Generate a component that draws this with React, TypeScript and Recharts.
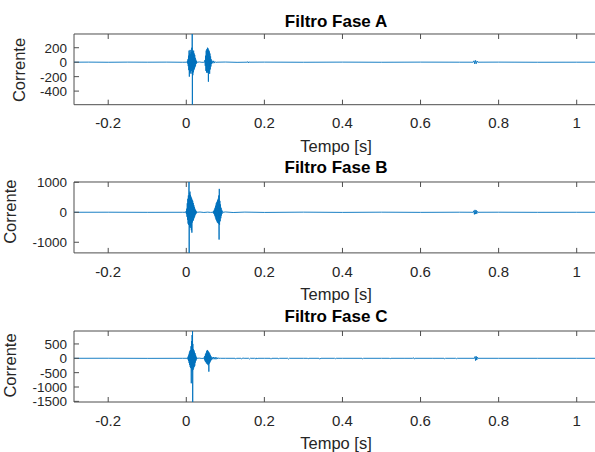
import { LineChart, Line, XAxis, YAxis, ReferenceArea } from 'recharts';

// [tempo (s), corrente]
const faseA: [number, number][] = [
  [-0.2876, 0], [-0.25, 1], [-0.2, -1], [-0.15, 1], [-0.1, 0], [-0.05, 1], [-0.01, -1], [0, 0],
  [0.002, 0], [0.0028, 12], [0.0035, -18], [0.0042, 40], [0.005, -55], [0.0057, 90], [0.0064, -110],
  [0.0071, 160], [0.0078, -200], [0.0085, 120], [0.0092, -150], [0.0099, 170], [0.0106, -130],
  [0.0113, 110], [0.012, -160], [0.0127, 140], [0.0134, -120], [0.0141, 200], [0.0148, -90],
  [0.0152, 390], [0.0156, -588], [0.016, 150], [0.0167, -180], [0.0174, 130], [0.0181, -140],
  [0.0188, 160], [0.0195, -110], [0.0202, 120], [0.0209, -90], [0.0216, 100], [0.0223, -70],
  [0.023, 60], [0.0237, -50], [0.0244, 35], [0.0251, -25], [0.0258, 18], [0.0265, -10], [0.0272, 5],
  [0.028, 0], [0.034, 3], [0.04, -2],
  [0.047, 0], [0.0478, 30], [0.0486, -50], [0.0494, 90], [0.0502, -120], [0.051, 160], [0.0518, -140],
  [0.0526, 180], [0.0534, -150], [0.0542, 200], [0.055, -130], [0.0558, 190], [0.0566, -270],
  [0.0574, 170], [0.0582, -140], [0.059, 150], [0.0598, -160], [0.0606, 120], [0.0614, -100],
  [0.0622, 80], [0.063, -60], [0.0638, 40], [0.0646, -25], [0.066, 20], [0.068, -15], [0.07, 18],
  [0.072, -12], [0.074, 8], [0.076, -5], [0.078, 0],
  [0.1, 2], [0.13, -2], [0.156, 0], [0.1575, 8], [0.159, -10], [0.1605, 6], [0.162, 0], [0.2, 1],
  [0.3, -1], [0.4, 1], [0.5, -1], [0.6, 1], [0.7, 0], [0.735, 0], [0.737, 20], [0.739, -25],
  [0.741, 25], [0.743, -20], [0.745, 15], [0.747, 0], [0.8, 1], [0.9, -1], [1.0, 0], [1.0535, 0],
];

const faseB: [number, number][] = [
  [-0.2876, 0], [-0.2, 2], [-0.1, -2], [-0.01, 0],
  [-0.001, 0], [-0.0003, 40], [0.0004, -60], [0.0011, 120], [0.0018, -150], [0.0025, 300],
  [0.0032, -250], [0.0039, 450], [0.0046, -380], [0.0053, 560], [0.006, -420], [0.0066, 600],
  [0.007, 1010], [0.0074, -1355], [0.008, 640], [0.0087, -480], [0.0094, 690], [0.0101, -520],
  [0.0108, 580], [0.0115, -450], [0.0122, 520], [0.0129, -600], [0.0136, 470], [0.0143, -680],
  [0.015, 420], [0.0157, -340], [0.0164, 380], [0.0171, -290], [0.0178, 310], [0.0185, -260],
  [0.0192, 240], [0.0199, -200], [0.0206, 180], [0.0213, -150], [0.022, 120], [0.0227, -100],
  [0.0234, 80], [0.0241, -60], [0.0248, 50], [0.0255, -35], [0.0262, 20], [0.027, -10], [0.028, 0],
  [0.035, 8], [0.045, -6], [0.055, 5], [0.062, -4],
  [0.068, 0], [0.0688, 20], [0.0696, -30], [0.0704, 50], [0.0712, -60], [0.072, 90], [0.0728, -110],
  [0.0736, 150], [0.0744, -170], [0.0752, 220], [0.076, -240], [0.0768, 300], [0.0776, -280],
  [0.0784, 350], [0.0792, -330], [0.08, 400], [0.0808, -360], [0.0816, 450], [0.0824, -380],
  [0.0832, 560], [0.084, -910], [0.0845, 780], [0.0852, -420], [0.086, 380], [0.0868, -300],
  [0.0876, 260], [0.0884, -200], [0.0892, 150], [0.09, -110], [0.0908, 80], [0.0916, -50],
  [0.0924, 30], [0.094, 0],
  [0.1, 10], [0.12, -8], [0.15, 6], [0.2, -5], [0.3, 4], [0.4, -4], [0.5, 3], [0.6, -3], [0.7, 2],
  [0.735, 0], [0.7365, 50], [0.738, -70], [0.7395, 80], [0.741, -60], [0.7425, 70], [0.744, -50],
  [0.7455, 30], [0.747, 0], [0.8, 2], [0.9, -2], [1.0, 0], [1.0535, 0],
];

const faseC: [number, number][] = [
  [-0.2876, 0], [-0.2, 2], [-0.1, -2], [-0.01, 0],
  [0.003, 0], [0.0037, 25], [0.0044, -40], [0.0051, 70], [0.0058, -90], [0.0065, 130], [0.0072, -160],
  [0.0079, 200], [0.0086, -230], [0.0093, 260], [0.01, -300], [0.0107, 290], [0.0114, -340],
  [0.0121, 420], [0.0128, -870], [0.0135, 600], [0.0142, -380], [0.0149, 810], [0.0156, -450],
  [0.016, 951], [0.0164, -1522], [0.0168, 500], [0.0175, -400], [0.0182, 320], [0.0189, -350],
  [0.0196, 280], [0.0203, -300], [0.021, 230], [0.0217, -260], [0.0224, 180], [0.0231, -150],
  [0.0238, 120], [0.0245, -90], [0.0252, 60], [0.0259, -40], [0.0266, 20], [0.0275, 0],
  [0.033, 6], [0.04, -5],
  [0.045, 0], [0.0458, 30], [0.0466, -45], [0.0474, 80], [0.0482, -100], [0.049, 140], [0.0498, -130],
  [0.0506, 190], [0.0514, -170], [0.0522, 250], [0.053, -190], [0.0538, 290], [0.0546, -210],
  [0.0554, 260], [0.0562, -240], [0.057, 230], [0.0578, -465], [0.0586, 200], [0.0594, -180],
  [0.0602, 160], [0.061, -140], [0.0618, 110], [0.0626, -90], [0.0634, 70], [0.0645, -50],
  [0.066, 40], [0.068, -35], [0.07, 45], [0.072, -30], [0.074, 40], [0.076, -35], [0.078, 30],
  [0.08, -25], [0.082, 20], [0.084, -15], [0.086, 10], [0.088, 0],
  [0.1, 0], [0.125, 0], [0.127, -25], [0.129, 0], [0.14, 0], [0.142, -20], [0.145, 10], [0.148, 0],
  [0.16, 0], [0.162, -25], [0.164, 0], [0.175, 0], [0.177, -20], [0.179, 15], [0.181, -25], [0.183, 0],
  [0.2, 0], [0.215, 0], [0.217, -30], [0.219, 0], [0.235, 0], [0.237, -20], [0.239, 0], [0.26, 0],
  [0.262, -25], [0.264, 0], [0.3, 0], [0.31, 0], [0.312, -20], [0.314, 0], [0.34, 0], [0.342, -25],
  [0.345, 0], [0.38, 0], [0.382, -15], [0.384, 0], [0.4, 0], [0.45, 0], [0.452, -20], [0.454, 0],
  [0.5, 0], [0.52, 0], [0.522, -20], [0.524, 0], [0.56, 0], [0.58, 0], [0.582, 20], [0.584, -25],
  [0.586, 0], [0.63, 0], [0.66, 0], [0.662, -20], [0.664, 0], [0.69, 0], [0.692, -15], [0.694, 0],
  [0.738, 0], [0.7395, 60], [0.741, -80], [0.7425, 70], [0.744, -60], [0.7455, 40], [0.747, 0],
  [0.8, 0], [0.9, 0], [1.0, 0], [1.0535, 0],
];

const xTicks = [-0.2, 0, 0.2, 0.4, 0.6, 0.8, 1];
const xDomain: [number, number] = [-0.2876, 1.0535];

const yTicksA = [-400, -200, 0, 200];
const yTicksB = [-1000, 0, 1000];
const yTicksC = [-1500, -1000, -500, 0, 500];

const titles = ['Filtro Fase A', 'Filtro Fase B', 'Filtro Fase C'];

const FONT = '"Liberation Sans", Arial, Helvetica, sans-serif';
const TEXT = '#262626';
const AXIS = '#4d4d4d';
const BLUE = '#0072BD';
const MARGIN_TOP = 34;
const XAXIS_H = 50;

const XTick = (props: any) => {
  const { x, y, payload } = props;
  return (
    <g>
      <line x1={x} x2={x} y1={y} y2={y - 5} stroke={AXIS} />
      <line x1={x} x2={x} y1={MARGIN_TOP} y2={MARGIN_TOP + 5} stroke={AXIS} />
      <text x={x} y={y + 23.8} textAnchor="middle" fontSize={15} fill={TEXT} fontFamily={FONT}>
        {String(payload.value)}
      </text>
    </g>
  );
};

const YTick = (props: any) => {
  const { x, y, payload } = props;
  return (
    <g>
      <line x1={x} x2={x + 5} y1={y} y2={y} stroke={AXIS} />
      <text x={x - 7} y={y} dy="0.36em" textAnchor="end" fontSize={13.5} fill={TEXT} fontFamily={FONT}>
        {String(payload.value)}
      </text>
    </g>
  );
};

type PanelProps = {
  rows: [number, number][];
  yDomain: [number, number];
  yTicks: number[];
  plotTop: number;
  plotBottom: number;
};

const Panel = ({ rows, yDomain, yTicks, plotTop, plotBottom }: PanelProps) => {
  const data = rows.map(([t, v]) => ({ t, v }));
  const h = plotBottom - plotTop + MARGIN_TOP + XAXIS_H;
  return (
    <div style={{ position: 'absolute', left: 0, top: plotTop - MARGIN_TOP }}>
      <LineChart width={620} height={h} data={data} margin={{ top: MARGIN_TOP, right: 22.4, bottom: 0, left: 0 }}>
        <XAxis
          dataKey="t"
          type="number"
          domain={xDomain}
          allowDataOverflow
          ticks={xTicks}
          interval={0}
          height={XAXIS_H}
          tickSize={0}
          tickMargin={0}
          axisLine={false}
          tick={<XTick />}
        />
        <YAxis
          type="number"
          domain={yDomain}
          allowDataOverflow
          ticks={yTicks}
          interval={0}
          width={74}
          tickSize={0}
          tickMargin={0}
          axisLine={false}
          tick={<YTick />}
        />
        <Line
          type="linear"
          dataKey="v"
          stroke={BLUE}
          strokeWidth={0.9}
          dot={false}
          isAnimationActive={false}
        />
        <ReferenceArea
          x1={xDomain[0]}
          x2={xDomain[1]}
          y1={yDomain[0]}
          y2={yDomain[1]}
          fill="none"
          stroke={AXIS}
          strokeWidth={1}
          ifOverflow="visible"
        />
      </LineChart>
    </div>
  );
};

export default function App() {
  return (
    <div style={{ position: 'absolute', left: 0, top: 0, width: 595, height: 452, overflow: 'hidden', background: '#fff' }}>
      <Panel rows={faseA} yDomain={[-588, 390]} yTicks={yTicksA} plotTop={33.8} plotBottom={104.5} />
      <Panel rows={faseB} yDomain={[-1355, 1010]} yTicks={yTicksB} plotTop={182.4} plotBottom={253.3} />
      <Panel rows={faseC} yDomain={[-1522, 951]} yTicks={yTicksC} plotTop={331} plotBottom={402} />
      <svg width={595} height={452} style={{ position: 'absolute', left: 0, top: 0, pointerEvents: 'none' }}>
        <g fontFamily={FONT} textAnchor="middle">
          <text x={336} y={26.5} fontSize={17} fontWeight="bold" fill="#000">{titles[0]}</text>
          <text x={336} y={173.3} fontSize={17} fontWeight="bold" fill="#000">{titles[1]}</text>
          <text x={336} y={322} fontSize={17} fontWeight="bold" fill="#000">{titles[2]}</text>
          <text x={336} y={151.7} fontSize={16.5} fill={TEXT}>Tempo [s]</text>
          <text x={336} y={300.4} fontSize={16.5} fill={TEXT}>Tempo [s]</text>
          <text x={336} y={449.2} fontSize={16.5} fill={TEXT}>Tempo [s]</text>
          <text x={19.5} y={70} dy="0.35em" fontSize={16.5} fill={TEXT} transform="rotate(-90 19.5 70)">Corrente</text>
          <text x={9.8} y={211.7} dy="0.35em" fontSize={16.5} fill={TEXT} transform="rotate(-90 9.8 211.7)">Corrente</text>
          <text x={9.8} y={365.5} dy="0.35em" fontSize={16.5} fill={TEXT} transform="rotate(-90 9.8 365.5)">Corrente</text>
        </g>
      </svg>
    </div>
  );
}
